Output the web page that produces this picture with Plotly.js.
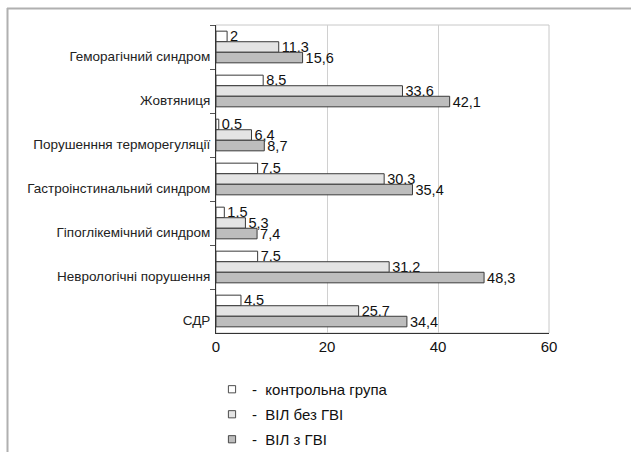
<!DOCTYPE html>
<html><head><meta charset="utf-8">
<script src="https://cdn.plot.ly/plotly-3.0.1.min.js"></script>
<style>html,body{margin:0;padding:0;background:#fff;}#chart{width:631px;height:452px;}</style>
</head><body><div id="chart"></div>
<script>
const categories = [
  "Геморагічний синдром",
  "Жовтяниця",
  "Порушенння терморегуляції",
  "Гастроінстинальний синдром",
  "Гіпоглікемічний синдром",
  "Неврологічні порушення",
  "СДР"
];
const seriesNames = ["-  контрольна група", "-  ВІЛ без ГВІ", "-  ВІЛ з ГВІ"];
const control = [2, 8.5, 0.5, 7.5, 1.5, 7.5, 4.5];
const hivNoGvi = [11.3, 33.6, 6.4, 30.3, 5.3, 31.2, 25.7];
const hivGvi = [15.6, 42.1, 8.7, 35.4, 7.4, 48.3, 34.4];
const xTicks = [0, 20, 40, 60];

const fills = ["#ffffff", "#e4e4e4", "#bdbdbd"];
const series = [control, hivNoGvi, hivGvi];
const fmt = v => String(v).replace('.', ',');
const FONT = 'Liberation Sans, Arial, sans-serif';

const traces = series.map((vals, i) => ({
  type: 'bar', orientation: 'h',
  name: seriesNames[i],
  legendgroup: 'g' + i,
  y: categories, x: vals,
  text: vals.map(fmt),
  textposition: 'outside',
  constraintext: 'none',
  cliponaxis: false,
  textfont: {family: FONT, size: 14.5, color: '#111'},
  marker: {color: fills[i], line: {color: '#3a3a3a', width: 1}},
  hoverinfo: 'none'
}));

const L = 216, R = 549, T = 25, B = 333, W = 631, H = 452;
const px = x => (x - L) / (R - L);
const py = y => (B - y) / (B - T);

const layout = {
  width: W, height: H,
  margin: {l: L, r: W - R, t: T, b: H - B, pad: 0, autoexpand: false},
  paper_bgcolor: '#fff', plot_bgcolor: '#fff',
  barmode: 'group', bargap: 0.28, bargroupgap: 0,
  showlegend: true,
  font: {family: FONT, color: '#111'},
  xaxis: {
    range: [0, 60], tickvals: xTicks, ticktext: xTicks.map(String),
    showgrid: true, gridcolor: '#d0d0d0', gridwidth: 1,
    zeroline: false, showline: true, linecolor: '#333', linewidth: 1,
    ticks: '', tickfont: {size: 15, color: '#111'}, fixedrange: true
  },
  yaxis: {
    type: 'category', autorange: 'reversed',
    showline: true, linecolor: '#333', linewidth: 1,
    ticks: 'outside', tickson: 'boundaries', ticklen: 5, tickcolor: '#555',
    showgrid: false, zeroline: false,
    ticklabelshift: -9, ticklabelstandoff: 2,
    tickfont: {size: 13.5, color: '#222'}, fixedrange: true
  },
  legend: {
    x: px(212), y: py(373), xanchor: 'left', yanchor: 'top',
    orientation: 'v', bgcolor: 'rgba(0,0,0,0)',
    font: {size: 15, color: '#111'}, traceorder: 'grouped', tracegroupgap: 2.5
  },
  shapes: [
    {type: 'rect', xref: 'paper', yref: 'paper', x0: 0, x1: 1, y0: 0, y1: 1,
     line: {color: '#c8c8c8', width: 1}, layer: 'below'},
    {type: 'line', xref: 'paper', yref: 'paper', x0: px(7), x1: px(640), y0: py(8.5), y1: py(8.5),
     line: {color: '#b0b0b0', width: 2}},
    {type: 'line', xref: 'paper', yref: 'paper', x0: px(7.5), x1: px(7.5), y0: py(8), y1: py(470),
     line: {color: '#b0b0b0', width: 2}}
  ]
};

Plotly.newPlot('chart', traces, layout, {displayModeBar: false, staticPlot: true}).then(gd => {
  gd.querySelectorAll('.legendpoints path').forEach(p => {
    p.setAttribute('transform', 'translate(20,0) scale(0.6)');
    p.style.strokeWidth = '1.5px';
  });
});
</script></body></html>
